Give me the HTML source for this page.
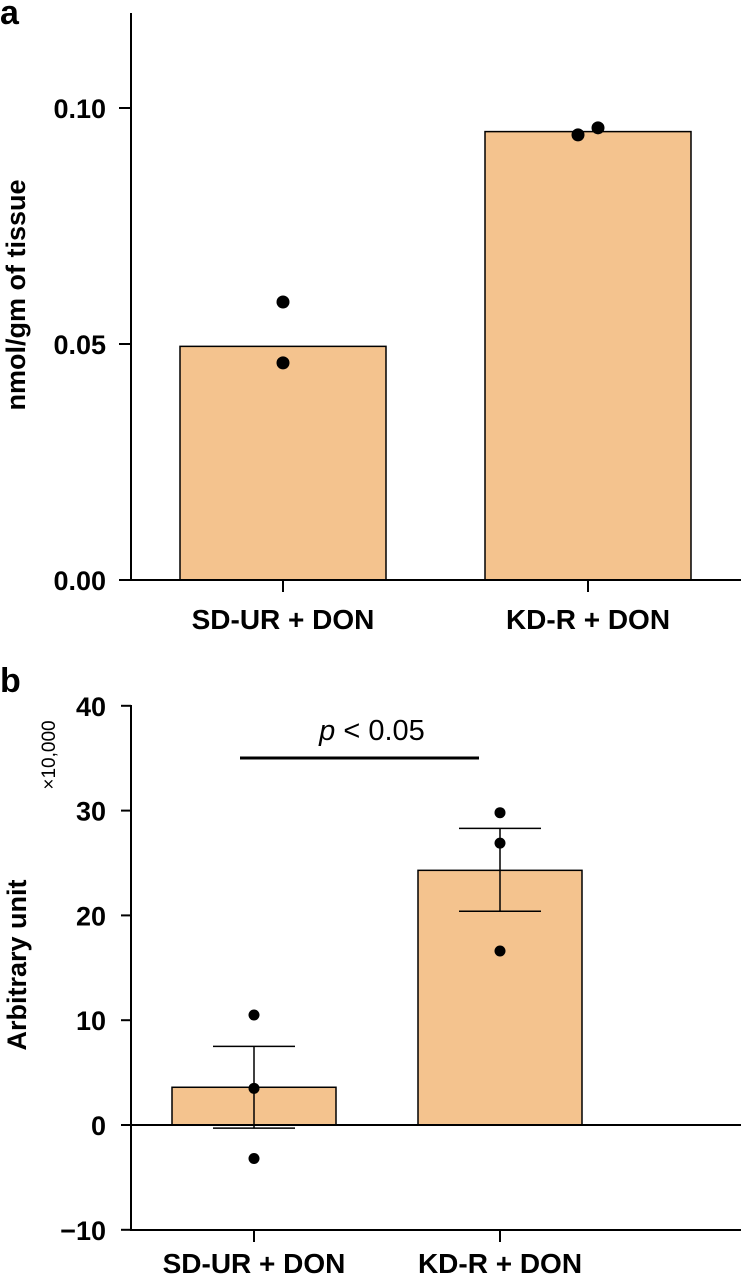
<!DOCTYPE html>
<html><head><meta charset="utf-8"><style>
html,body{margin:0;padding:0;background:#fff;}
svg{display:block;font-family:"Liberation Sans",Arial,sans-serif;}
</style></head><body>
<svg id="c" width="741" height="1276" viewBox="0 0 741 1276" xmlns="http://www.w3.org/2000/svg"></svg>
<script>
const categories = ["SD-UR + DON", "KD-R + DON"];
const aMeans = [0.0495, 0.095];
const aPoints = [[0.0589, 0.046], [0.0943, 0.0958]];
const aTicks = [0.00, 0.05, 0.10];
const aTickLabels = ["0.00", "0.05", "0.10"];
const bMeans = [3.6, 24.3];
const bErrHi = [7.5, 28.3];
const bErrLo = [-0.3, 20.4];
const bPoints = [[10.5, 3.5, -3.2], [29.8, 26.9, 16.6]];
const bTicks = [-10, 0, 10, 20, 30, 40];
const bTickLabels = ["\u221210", "0", "10", "20", "30", "40"];

const svg = document.getElementById('c');
const NS = 'http://www.w3.org/2000/svg';
const BOLD = 'font-weight:bold;font-size:27px;fill:#000;';
function mk(tag, attrs, parent, name, txt){
  const e = document.createElementNS(NS, tag);
  for (const k in attrs) e.setAttribute(k, attrs[k]);
  
  
  if (txt !== undefined) e.textContent = txt;
  (parent || svg).appendChild(e);
  return e;
}
const FILL = '#f4c38e';

// Panel a
const ay = v => 580 - v / 0.05 * 236;
const ax = [283, 588];
const aHalf = 103;
mk('text', {x: 0, y: 24, style: 'font-weight:bold;font-size:34px;'}, null, 'panel-a-label', 'a');
aMeans.forEach((m, i) => {
  mk('rect', {x: ax[i] - aHalf, y: ay(m), width: aHalf * 2, height: ay(0) - ay(m), fill: FILL, stroke: '#000', 'stroke-width': 1.5}, null, 'bar-a-' + i);
  aPoints[i].forEach((p, j) => {
    const dx = i === 1 ? (j === 0 ? -10 : 10) : 0;
    mk('circle', {cx: ax[i] + dx, cy: ay(p), r: 6.5, fill: '#000'}, null, 'point-a-' + i + '-' + j);
  });
  mk('line', {x1: ax[i], x2: ax[i], y1: 580, y2: 592, stroke: '#000', 'stroke-width': 2}, null, 'x-tick-a-' + i);
  mk('text', {x: ax[i], y: 629, 'text-anchor': 'middle', style: BOLD + 'font-size:28px;'}, null, 'x-label-a-' + i, categories[i]);
});
mk('line', {x1: 131, x2: 131, y1: 13, y2: 581, stroke: '#000', 'stroke-width': 2}, null, 'y-axis-a');
mk('line', {x1: 130, x2: 741, y1: 580, y2: 580, stroke: '#000', 'stroke-width': 2}, null, 'x-axis-a');
aTicks.forEach((t, i) => {
  mk('line', {x1: 119, x2: 131, y1: ay(t), y2: ay(t), stroke: '#000', 'stroke-width': 2}, null, 'y-tick-a-' + i);
  mk('text', {x: 106, y: ay(t) + 10, 'text-anchor': 'end', style: BOLD}, null, 'y-tick-label-a-' + i, aTickLabels[i]);
});
mk('text', {x: 0, y: 0, transform: 'translate(25,295) rotate(-90)', 'text-anchor': 'middle', style: BOLD}, null, 'y-axis-title-a', 'nmol/gm of tissue');

// Panel b
const by = v => 1125 - v * 10.48;
const bx = [254, 500];
const bHalf = 82;
mk('text', {x: 0, y: 692, style: 'font-weight:bold;font-size:34px;'}, null, 'panel-b-label', 'b');
bMeans.forEach((m, i) => {
  mk('rect', {x: bx[i] - bHalf, y: Math.min(by(m), by(0)), width: bHalf * 2, height: Math.abs(by(0) - by(m)), fill: FILL, stroke: '#000', 'stroke-width': 1.5}, null, 'bar-b-' + i);
});
mk('line', {x1: 131, x2: 741, y1: by(0), y2: by(0), stroke: '#000', 'stroke-width': 2}, null, 'zero-line-b');
bMeans.forEach((m, i) => {
  mk('line', {x1: bx[i], x2: bx[i], y1: by(bErrHi[i]), y2: by(bErrLo[i]), stroke: '#000', 'stroke-width': 1.5}, null, 'error-bar-b-' + i);
  mk('line', {x1: bx[i] - 41, x2: bx[i] + 41, y1: by(bErrHi[i]), y2: by(bErrHi[i]), stroke: '#000', 'stroke-width': 1.5}, null, 'error-cap-high-b-' + i);
  mk('line', {x1: bx[i] - 41, x2: bx[i] + 41, y1: by(bErrLo[i]), y2: by(bErrLo[i]), stroke: '#000', 'stroke-width': 1.5}, null, 'error-cap-low-b-' + i);
  bPoints[i].forEach((p, j) => {
    mk('circle', {cx: bx[i], cy: by(p), r: 5.5, fill: '#000'}, null, 'point-b-' + i + '-' + j);
  });
  mk('line', {x1: bx[i], x2: bx[i], y1: 1230, y2: 1242, stroke: '#000', 'stroke-width': 2}, null, 'x-tick-b-' + i);
  mk('text', {x: bx[i], y: 1273, 'text-anchor': 'middle', style: BOLD + 'font-size:28px;'}, null, 'x-label-b-' + i, categories[i]);
});
mk('line', {x1: 131, x2: 131, y1: 705, y2: 1231, stroke: '#000', 'stroke-width': 2}, null, 'y-axis-b');
mk('line', {x1: 130, x2: 741, y1: 1230, y2: 1230, stroke: '#000', 'stroke-width': 2}, null, 'x-axis-b');
bTicks.forEach((t, i) => {
  mk('line', {x1: 121, x2: 131, y1: by(t), y2: by(t), stroke: '#000', 'stroke-width': 2}, null, 'y-tick-b-' + i);
  mk('text', {x: 106, y: by(t) + 10, 'text-anchor': 'end', style: BOLD}, null, 'y-tick-label-b-' + i, bTickLabels[i]);
});
mk('text', {x: 0, y: 0, transform: 'translate(26,965) rotate(-90)', 'text-anchor': 'middle', style: BOLD}, null, 'y-axis-title-b', 'Arbitrary unit');
mk('text', {x: 0, y: 0, transform: 'translate(55,755) rotate(-90)', 'text-anchor': 'middle', style: 'font-size:19px;fill:#000;'}, null, 'scale-multiplier', '\u00d710,000');
mk('line', {x1: 240, x2: 479, y1: 758, y2: 758, stroke: '#000', 'stroke-width': 3}, null, 'significance-bar');
const pt = mk('text', {x: 372, y: 740, 'text-anchor': 'middle', style: 'font-size:29px;fill:#000;'}, null, 'significance-label');
const ps = document.createElementNS(NS, 'tspan'); ps.setAttribute('font-style', 'italic'); ps.textContent = 'p';


pt.appendChild(ps); pt.appendChild(document.createTextNode(' < 0.05'));
</script>
</body></html>
